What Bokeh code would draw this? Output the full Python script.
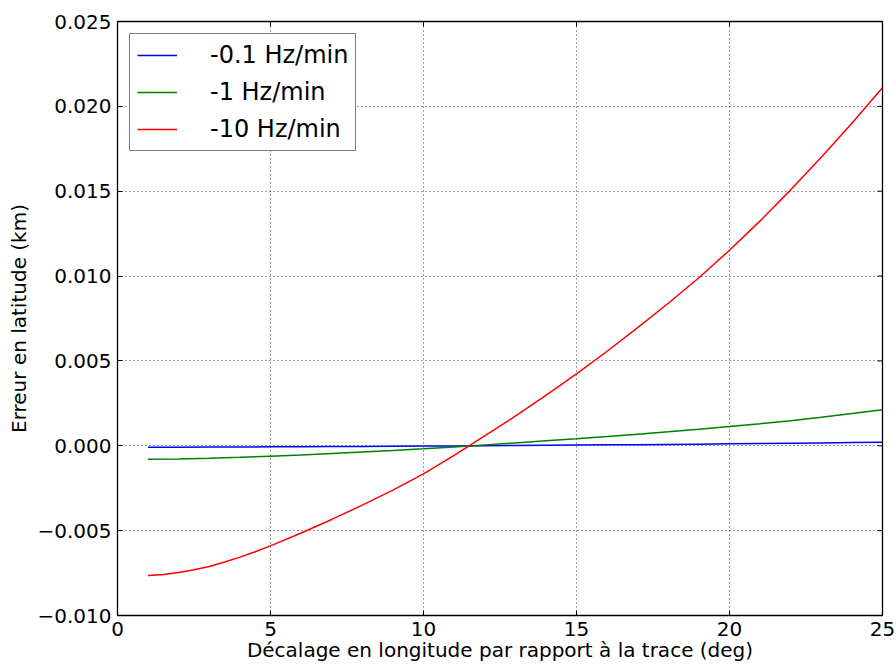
import math
from bokeh.plotting import figure
from bokeh.models import (Range1d, FixedTicker, CustomJSTickFormatter, Legend, LegendItem)
from bokeh.embed import file_html
from bokeh.resources import INLINE

# ---- data ----
x_deg = [1, 2, 3, 4, 5, 6, 7, 8, 9, 10, 11, 12, 13, 14, 15, 16, 17, 18, 19, 20, 21, 22, 23, 24, 25]
err_01 = [-0.000085, -0.000080, -0.000075, -0.000069, -0.000062, -0.000055, -0.000046, -0.000038,
          -0.000028, -0.000018, -0.000007, 0.000005, 0.000017, 0.000029, 0.000041, 0.000054,
          0.000068, 0.000082, 0.000097, 0.000113, 0.000130, 0.000148, 0.000168, 0.000189, 0.000211]
err_1 = [-0.00080, -0.00078, -0.00074, -0.00068, -0.00061, -0.00054, -0.00046, -0.00037,
         -0.00028, -0.00018, -0.00007, 0.00005, 0.00017, 0.00029, 0.00041, 0.00054,
         0.00068, 0.00082, 0.00097, 0.00113, 0.00130, 0.00148, 0.00168, 0.00190, 0.00213]
# the -10 Hz/min curve, read at finer steps where it bends most
x_deg_10 = [1, 1.5, 2, 2.5, 3, 3.5, 4, 4.5, 5, 6, 7, 8, 9, 10, 11, 12, 13, 14, 15, 16,
            17, 18, 19, 20, 21, 22, 23, 24, 25]
err_10 = [-0.00765, -0.00759, -0.00747, -0.00731, -0.00711, -0.00685, -0.00656, -0.00624,
          -0.00590, -0.00514, -0.00434, -0.00350, -0.00261, -0.00165, -0.00056, 0.00058,
          0.00175, 0.00297, 0.00424, 0.00557, 0.00696, 0.00840, 0.00990, 0.01152, 0.01325,
          0.01508, 0.01700, 0.01900, 0.02110]
series_labels = ["-0.1 Hz/min", "-1 Hz/min", "-10 Hz/min"]
series_colors = ["#0000ff", "#008000", "#ff0000"]
x_ticks = [0, 5, 10, 15, 20, 25]
y_ticks = [-0.010, -0.005, 0.000, 0.005, 0.010, 0.015, 0.020, 0.025]
x_title = "Décalage en longitude par rapport à la trace (deg)"
y_title = "Erreur en latitude (km)"

FONT = "DejaVu Sans"
X0, X1 = x_ticks[0], x_ticks[-1]
Y0, Y1 = y_ticks[0], y_ticks[-1]

p = figure(width=896, height=666, output_backend="svg", toolbar_location=None,
           x_range=Range1d(X0, X1), y_range=Range1d(Y0, Y1),
           min_border_left=117, min_border_right=14, min_border_top=21, min_border_bottom=51)
p.background_fill_color = "white"
p.border_fill_color = "white"
p.outline_line_color = "black"
p.outline_line_width = 1.3

yfmt = CustomJSTickFormatter(code="""
    if (Math.abs(tick) < 1e-12) { return '0.000'; }
    return (tick < 0 ? '\u2212' : '') + Math.abs(tick).toFixed(3);
""")

xa = p.xaxis[0]
ya = p.yaxis[0]
xa.ticker = FixedTicker(ticks=x_ticks)
ya.ticker = FixedTicker(ticks=y_ticks)
ya.formatter = yfmt
xa.axis_label = x_title
ya.axis_label = y_title
for ax in (xa, ya):
    ax.axis_line_color = None
    ax.major_tick_in = 5
    ax.major_tick_out = 0
    ax.major_tick_line_color = "black"
    ax.minor_tick_line_color = None
    ax.major_label_text_font = FONT
    ax.major_label_text_color = "black"
    ax.major_label_text_font_size = "20px"
    ax.major_label_standoff = 6
    ax.axis_label_text_font = FONT
    ax.axis_label_text_font_size = "20px"
    ax.axis_label_text_font_style = "normal"
    ax.axis_label_text_color = "black"
    ax.axis_label_standoff = 3
xa.axis_label_standoff = -1

# inward tick marks on the top and right edges (half of each dash is clipped by the frame)
p.scatter(x_ticks, [Y1] * len(x_ticks), marker="dash", angle=math.pi / 2, size=10,
          line_color="black", line_width=1)
p.scatter([X1] * len(y_ticks), y_ticks, marker="dash", size=10,
          line_color="black", line_width=1)

p.xgrid.ticker = FixedTicker(ticks=x_ticks)
p.ygrid.ticker = FixedTicker(ticks=y_ticks)
for g in (p.xgrid[0], p.ygrid[0]):
    g.grid_line_color = "black"
    g.grid_line_alpha = 0.75
    g.grid_line_dash = "1 3"
    g.grid_line_width = 1

renderers = []
for xs, ys, col in zip([x_deg, x_deg, x_deg_10], [err_01, err_1, err_10], series_colors):
    r = p.line(xs, ys, line_color=col, line_width=1.5)
    renderers.append(r)

legend = Legend(items=[LegendItem(label=l, renderers=[r]) for l, r in zip(series_labels, renderers)],
                location="top_left")
legend.margin = 12
legend.padding = 7
legend.spacing = 9
legend.glyph_width = 40
legend.glyph_height = 24
legend.label_height = 24
legend.label_standoff = 33
legend.label_text_font = FONT
legend.label_text_font_size = "24px"
legend.label_text_color = "black"
legend.border_line_color = "black"
legend.border_line_width = 1.3
legend.background_fill_color = "white"
legend.background_fill_alpha = 1.0
p.add_layout(legend, "center")

open("out.html", "w").write(file_html(p, INLINE))
